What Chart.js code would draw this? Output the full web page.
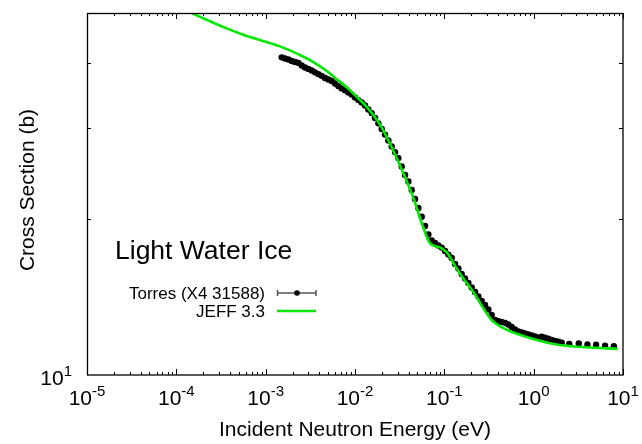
<!DOCTYPE html>
<html><head><meta charset="utf-8">
<script src="https://cdn.jsdelivr.net/npm/chart.js@4.4.1/dist/chart.umd.min.js"></script>
<style>html,body{margin:0;padding:0;background:#fff;}canvas{display:block;}</style>
</head><body>
<canvas id="c" width="642" height="444"></canvas>
<script>
// ---- data ----
const torresEnergy = [0.001512, 0.001647, 0.001796, 0.001957, 0.002132, 0.002323, 0.002531, 0.002758, 0.003006, 0.003276,
  0.003569, 0.003889, 0.004238, 0.00462, 0.005034, 0.005485, 0.005977, 0.006514, 0.007097, 0.007734,
  0.008431, 0.009187, 0.01001, 0.01091, 0.01189, 0.01295, 0.01411, 0.01538, 0.01676, 0.01826,
  0.0199, 0.02169, 0.02363, 0.02576, 0.02807, 0.03058, 0.03333, 0.03632, 0.03957, 0.04312,
  0.04699, 0.05123, 0.05582, 0.06081, 0.06627, 0.07221, 0.07869, 0.08576, 0.09346, 0.1018,
  0.111, 0.1209, 0.1318, 0.1436, 0.1565, 0.1705, 0.1858, 0.2025, 0.2207, 0.2404,
  0.262, 0.2855, 0.3112, 0.3391, 0.3695, 0.4027, 0.4387, 0.4781, 0.5212, 0.5677,
  0.6187, 0.6742, 0.7347, 0.8006, 0.8726, 0.9506, 1.036, 1.129, 1.23, 1.341,
  1.461, 1.592, 1.735, 1.891, 2.06,
  2.5, 3.2, 4.0, 5.0, 6.3, 7.9];
const torresXS = [41.05, 40.83, 40.65, 40.38, 40.20, 40.06, 39.58, 39.23, 39.00, 38.71,
  38.40, 38.11, 37.81, 37.44, 37.19, 36.95, 36.54, 36.13, 35.76, 35.45,
  35.13, 34.79, 34.33, 33.95, 33.58, 33.13, 32.55, 32.04, 31.34, 30.61,
  29.85, 29.12, 28.36, 27.61, 26.94, 26.23, 25.27, 24.33, 23.64, 22.76,
  21.87, 21.01, 20.21, 19.39, 18.67, 18.18, 17.98, 17.78, 17.62, 17.35,
  17.08, 16.82, 16.38, 16.06, 15.67, 15.36, 15.06, 14.76, 14.47, 14.18,
  13.90, 13.65, 13.38, 13.06, 12.77, 12.70, 12.66, 12.61, 12.52, 12.38,
  12.24, 12.13, 12.08, 12.03, 11.97, 11.92, 11.87, 11.81, 11.85, 11.80,
  11.75, 11.69, 11.64, 11.59, 11.54,
  11.48, 11.50, 11.45, 11.44, 11.39, 11.36];
const jeffEnergy = [1.49e-4, 2.38e-4, 3.66e-4, 5.62e-4, 9.10e-4, 1.45e-3, 2.62e-3, 3.57e-3, 4.86e-3, 6.29e-3,
  8.14e-3, 1.05e-2, 1.36e-2, 1.91e-2, 2.66e-2, 3.63e-2, 4.46e-2, 5.77e-2, 6.91e-2, 8.07e-2,
  9.18e-2, 0.110, 0.1317, 0.1631, 0.2110, 0.2731, 0.3390, 0.4200, 0.5916, 0.9906, 1.811, 3.754, 8.72];
const jeffXS = [50.0, 48.2, 46.7, 45.4, 44.2, 43.1, 41.2, 40.0, 38.6, 37.2,
  35.9, 34.4, 32.9, 30.4, 27.2, 24.1, 22.06, 19.33, 17.96, 17.71,
  17.59, 17.13, 16.24, 15.36, 14.47, 13.45, 12.77, 12.41, 12.08, 11.74, 11.45, 11.31, 11.23];
const seriesNames = ['Torres (X4 31588)', 'JEFF 3.3'];
const xTickExponents = ['-5', '-4', '-3', '-2', '-1', '0', '1'];
const xMinorMultipliers = [2, 3, 4, 5, 6, 7, 8, 9];
const yTickValues = [20, 30, 40];
const yLabelExponents = ['1'];
const plotTitle = 'Light Water Ice';
const xTitle = 'Incident Neutron Energy (eV)';
const yTitle = 'Cross Section (b)';

const FONT = '"Liberation Sans", Arial, Helvetica, sans-serif';
const GREEN = '#00e800';

function drawPow(ctx, exp, x, baseline, align) {
  ctx.font = '21px ' + FONT;
  const w1 = ctx.measureText('10').width;
  ctx.font = '15px ' + FONT;
  const w2 = ctx.measureText(exp).width;
  const total = w1 + w2;
  const start = align === 'center' ? x - total / 2 : x - total;
  ctx.textAlign = 'left';
  ctx.textBaseline = 'alphabetic';
  ctx.font = '21px ' + FONT;
  ctx.fillText('10', start, baseline);
  ctx.font = '15px ' + FONT;
  ctx.fillText(exp, start + w1, baseline - 9.5);
}

const deco = {
  id: 'deco',
  afterDatasetsDraw(chart) {
    const ctx = chart.ctx, a = chart.chartArea, xs = chart.scales.x, ys = chart.scales.y;
    ctx.save();
    ctx.strokeStyle = '#000';
    ctx.lineWidth = 1;
    const seg = (x1, y1, x2, y2) => { ctx.beginPath(); ctx.moveTo(x1, y1); ctx.lineTo(x2, y2); ctx.stroke(); };
    xTickExponents.forEach(e => {
      const dec = Math.pow(10, +e);
      const px = Math.round(xs.getPixelForValue(dec)) + 0.5;
      seg(px, a.bottom, px, a.bottom - 6);
      seg(px, a.top, px, a.top + 6);
      if (+e < 1) {
        xMinorMultipliers.forEach(m => {
          const qx = Math.round(xs.getPixelForValue(m * dec)) + 0.5;
          seg(qx, a.bottom, qx, a.bottom - 3);
          seg(qx, a.top, qx, a.top + 3);
        });
      }
    });
    yTickValues.forEach(v => {
      const py = Math.round(ys.getPixelForValue(v)) + 0.5;
      seg(a.left, py, a.left + 4, py);
      seg(a.right, py, a.right - 4, py);
    });
    ctx.lineWidth = 1.3;
    ctx.strokeRect(a.left + 0.5, a.top + 0.5, a.right - a.left - 0.5, a.bottom - a.top - 0.5);

    ctx.fillStyle = '#000';
    xTickExponents.forEach(e => {
      drawPow(ctx, e, xs.getPixelForValue(Math.pow(10, +e)), a.bottom + 30, 'center');
    });
    yLabelExponents.forEach(e => {
      drawPow(ctx, e, a.left - 15, ys.getPixelForValue(Math.pow(10, +e)) + 10, 'right');
    });
    ctx.font = '21px ' + FONT;
    ctx.textAlign = 'center';
    ctx.textBaseline = 'alphabetic';
    ctx.fillText(xTitle, (a.left + a.right) / 2, 436);
    ctx.save();
    ctx.translate(33.5, 190);
    ctx.rotate(-Math.PI / 2);
    ctx.fillText(yTitle, 0, 0);
    ctx.restore();
    ctx.textAlign = 'left';
    ctx.font = '26.5px ' + FONT;
    ctx.fillText(plotTitle, 115, 259);
    ctx.font = '17px ' + FONT;
    ctx.textAlign = 'right';
    ctx.fillText(seriesNames[0], 265, 299);
    ctx.fillText(seriesNames[1], 265, 317);
    ctx.strokeStyle = '#555';
    ctx.lineWidth = 1.5;
    seg(277.5, 293, 316, 293);
    seg(277.5, 290, 277.5, 296);
    seg(316, 290, 316, 296);
    ctx.fillStyle = '#000';
    ctx.beginPath(); ctx.arc(297, 293, 2.8, 0, Math.PI * 2); ctx.fill();
    ctx.strokeStyle = GREEN;
    ctx.lineWidth = 2.6;
    seg(277, 311, 316, 311);
    ctx.restore();
  }
};

new Chart(document.getElementById('c'), {
  type: 'scatter',
  data: {
    datasets: [
      {
        label: seriesNames[1],
        data: jeffEnergy.map((e, i) => ({ x: e, y: jeffXS[i] })),
        showLine: true,
        borderColor: GREEN,
        borderWidth: 2.6,
        pointRadius: 0,
        tension: 0.35,
        order: 0
      },
      {
        label: seriesNames[0],
        data: torresEnergy.map((e, i) => ({ x: e, y: torresXS[i] })),
        showLine: false,
        pointRadius: 3.2,
        pointBackgroundColor: '#000',
        pointBorderWidth: 0,
        order: 1
      }
    ]
  },
  options: {
    responsive: false,
    animation: false,
    devicePixelRatio: 1,
    layout: { padding: { left: 87, right: 19, top: 13, bottom: 69 } },
    plugins: { legend: { display: false }, tooltip: { enabled: false } },
    scales: {
      x: { type: 'logarithmic', min: 1e-5, max: 10, display: false },
      y: { type: 'logarithmic', min: 10, max: 50, display: false }
    }
  },
  plugins: [deco]
});
</script>
</body></html>
